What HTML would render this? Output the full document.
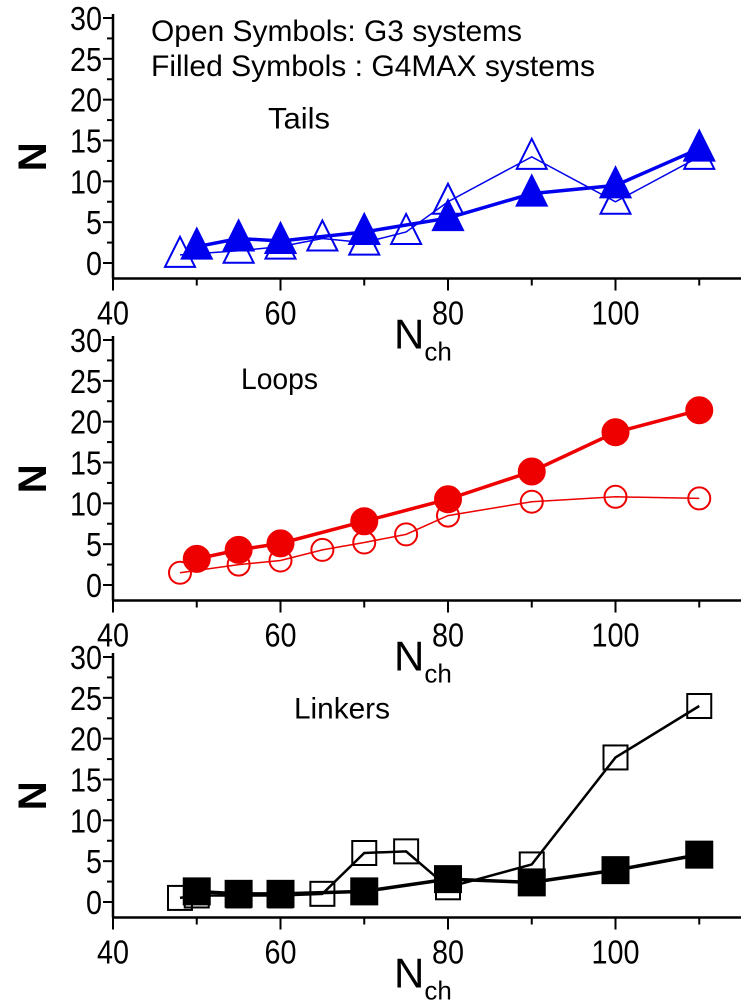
<!DOCTYPE html>
<html><head><meta charset="utf-8"><style>
body{margin:0;background:#fff;width:747px;height:1000px;overflow:hidden}
svg text{font-family:"Liberation Sans",sans-serif}
</style></head><body>
<svg id="c" width="747" height="1000"></svg>
<script>
const xTicks=[40,60,80,100];
const yTicks=[0,5,10,15,20,25,30];
const tailsOpenX=[48,55,60,65,70,75,80,90,100,110];
const tailsOpenY=[1,1.5,2,3,2.5,3.8,7.5,13,7.5,13];
const tailsFillX=[50,55,60,70,80,90,100,110];
const tailsFillY=[2,3,2.7,3.8,5.5,8.5,9.5,14];
const loopsOpenX=[48,55,60,65,70,75,80,90,100,110];
const loopsOpenY=[1.5,2.5,3,4.3,5.2,6.2,8.5,10.2,10.8,10.6];
const loopsFillX=[50,55,60,70,80,90,100,110];
const loopsFillY=[3.2,4.3,5.1,7.8,10.5,13.9,18.7,21.4];
const linkOpenX=[48,50,55,60,65,70,75,80,90,100,110];
const linkOpenY=[0.5,0.8,0.8,0.8,1,6,6.2,1.8,4.6,17.7,24];
const linkFillX=[50,55,60,70,80,90,100,110];
const linkFillY=[1.3,1,1,1.3,2.8,2.4,3.9,5.8];

const NS="http://www.w3.org/2000/svg";
const svg=document.getElementById('c');
function el(t,a,p){const e=document.createElementNS(NS,t);for(const k in a)e.setAttribute(k,a[k]);(p||svg).appendChild(e);return e;}
const X=v=>113+(v-40)*167.5/20;

function panel(y0,name,label,color,openX,openY,fillX,fillY,shape){
  const g=el('g',{});
  
  
  const Y=v=>y0-v*245/30;
  const axisY=Y(-1.9);
  const ax=el('line',{x1:113,y1:axisY,x2:741,y2:axisY,stroke:'#000','stroke-width':2.5},g);
  
  
  const ay=el('line',{x1:113,y1:axisY,x2:113,y2:Y(30)-4,stroke:'#000','stroke-width':2.5},g);
  
  
  for(let v=0;v<=30;v+=2.5){const maj=v%5===0;el('line',{x1:113-(maj?10:6),x2:113,y1:Y(v),y2:Y(v),stroke:'#000','stroke-width':2},g);}
  yTicks.forEach(v=>{const s=String(v);const t=el('text',{x:102,y:Y(v)+12,'text-anchor':'end','font-size':33,textLength:s.length*16,lengthAdjust:'spacingAndGlyphs'},g);t.textContent=s;
    
    });
  for(let v=40;v<=110;v+=10){const maj=v%20===0;el('line',{x1:X(v),x2:X(v),y1:axisY,y2:axisY+(maj?12:7),stroke:'#000','stroke-width':2},g);}
  xTicks.forEach(v=>{const s=String(v);const t=el('text',{x:X(v),y:axisY+46,'text-anchor':'middle','font-size':33,textLength:s.length*16,lengthAdjust:'spacingAndGlyphs'},g);t.textContent=s;
    
    });
  const xl=el('text',{x:394,y:axisY+70,'font-size':42},g);xl.innerHTML='N<tspan font-size="26" dy="12">ch</tspan>';
  
  
  const yl=el('text',{x:0,y:0,'font-size':40,'font-weight':'bold',transform:`translate(46,${Y(13)}) rotate(-90)`,'text-anchor':'middle'},g);yl.textContent='N';
  
  
  const pl=el('text',{x:label[1],y:Y(label[2]),'font-size':30,textLength:label[3],lengthAdjust:'spacingAndGlyphs'},g);pl.textContent=label[0];
  
  
  const lo=el('polyline',{points:openX.map((x,i)=>X(x)+','+Y(openY[i])).join(' '),fill:'none',stroke:color,'stroke-width':color==='#000'?2.5:1.5},g);
  
  
  const lf=el('polyline',{points:fillX.map((x,i)=>X(x)+','+Y(fillY[i])).join(' '),fill:'none',stroke:color,'stroke-width':3.5},g);
  
  
  function mark(x,y,filled){
    const cx=X(x),cy=Y(y);let m;
    if(shape==='tri'){const s=15;m=el('polygon',{points:`${cx},${cy-s-3} ${cx-s},${cy+s-3} ${cx+s},${cy+s-3}`},g);}
    else if(shape==='circ'){m=el('circle',{cx,cy,r:filled?13:11},g);}
    else {const s=filled?13:12;m=el('rect',{x:cx-s,y:cy-s,width:2*s,height:2*s},g);}
    m.setAttribute('fill',filled?color:'none');m.setAttribute('stroke',color);m.setAttribute('stroke-width',2);
    return m;
  }
  openX.forEach((x,i)=>{const m=mark(x,openY[i],false);
    
    });
  fillX.forEach((x,i)=>{const m=mark(x,fillY[i],true);
    
    });
}
panel(263,'tails',['Tails',268,16.5,62],'#0000ee',tailsOpenX,tailsOpenY,tailsFillX,tailsFillY,'tri');
panel(585,'loops',['Loops',241,24,77],'#ee0000',loopsOpenX,loopsOpenY,loopsFillX,loopsFillY,'circ');
panel(902,'linkers',['Linkers',294,22.5,96],'#000',linkOpenX,linkOpenY,linkFillX,linkFillY,'sq');
const n1=el('text',{x:151,y:41,'font-size':30,textLength:371,lengthAdjust:'spacingAndGlyphs'});n1.textContent='Open Symbols: G3 systems';


const n2=el('text',{x:151,y:76,'font-size':30,textLength:444,lengthAdjust:'spacingAndGlyphs'});n2.textContent='Filled Symbols : G4MAX systems';


</script>
</body></html>
